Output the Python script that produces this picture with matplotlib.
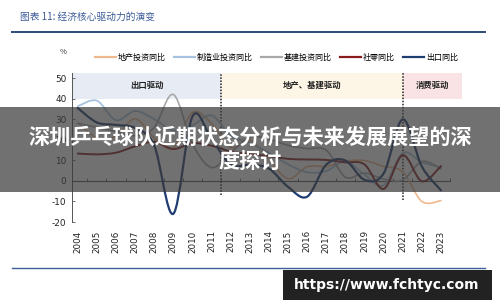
import numpy as np
import matplotlib
matplotlib.use("Agg")
import matplotlib.pyplot as plt
from matplotlib.path import Path
from matplotlib.patches import PathPatch, Rectangle
from matplotlib.lines import Line2D

plt.rcParams['font.family'] = ['Noto Sans CJK SC', 'DejaVu Sans']

years = list(range(2004, 2024))
year_labels = [str(y) for y in years]
real_estate = [28.1, 20.9, 21.8, 30.2, 20.9, 16.1, 33.2, 27.9, 16.2, 19.8, 10.5, 1.0, 6.9, 7.0, 9.5, 9.9, 7.0, 4.4, -10.0, -9.6]
manufacturing = [36.3, 39.0, 29.5, 34.0, 30.0, 24.5, 27.0, 31.8, 22.0, 18.5, 13.5, 8.1, 4.2, 4.8, 9.5, 3.1, -2.2, 13.5, 9.1, 6.5]
infrastructure = [28.0, 26.0, 24.0, 22.0, 26.0, 42.0, 18.0, 6.5, 13.7, 21.2, 20.3, 17.3, 15.7, 14.9, 1.8, 3.8, 0.9, 0.4, 9.4, 5.9]
retail = [13.3, 12.9, 13.7, 16.8, 19.0, 15.5, 18.3, 17.1, 14.3, 13.1, 12.0, 10.7, 10.4, 10.2, 9.0, 8.0, -3.9, 12.5, -0.2, 7.2]
export = [35.4, 28.4, 27.2, 25.7, 17.2, -16.0, 31.3, 20.3, 7.9, 7.8, 6.0, -2.9, -7.7, 7.9, 9.9, 0.5, 3.6, 29.9, 7.0, -4.6]

series_names = ['地产投资同比', '制造业投资同比', '基建投资同比', '社零同比', '出口同比']
series_values = [real_estate, manufacturing, infrastructure, retail, export]
series_colors = ['#f0b88c', '#a8c3df', '#a8a8a8', '#8a1c1f', '#1f3d70']
series_widths = [1.2, 1.3, 1.2, 1.4, 1.6]

phase_names = ['出口驱动', '地产、基建驱动', '消费驱动']
phase_bounds = [(2003.7, 2011.5), (2011.5, 2021.0), (2021.0, 2024.1)]
phase_colors = ['#e6ebf4', '#fdf6e6', '#fae3e5']

yticks = [-20, -10, 0, 10, 20, 30, 40, 50]


def smooth_path(xs, ys):
    pts = np.column_stack([xs, ys]).astype(float)
    n = len(pts)
    verts = [pts[0]]
    codes = [Path.MOVETO]
    for i in range(n - 1):
        p0 = pts[i - 1] if i > 0 else pts[i]
        p1 = pts[i]
        p2 = pts[i + 1]
        p3 = pts[i + 2] if i + 2 < n else pts[i + 1]
        c1 = p1 + (p2 - p0) / 6.0
        c2 = p2 - (p3 - p1) / 6.0
        verts += [c1, c2, p2]
        codes += [Path.CURVE4] * 3
    return Path(verts, codes)


fig = plt.figure(figsize=(5, 3), dpi=100)
fig.patch.set_facecolor('white')
ax = fig.add_axes([0.144, 0.26, 0.78, 0.497])
ax.set_xlim(2003.7, 2024.1)
ax.set_ylim(-20, 52.5)

# phase bands
for (x0, x1), c, name in zip(phase_bounds, phase_colors, phase_names):
    ax.add_patch(Rectangle((x0, 40), x1 - x0, 12.5, facecolor=c, edgecolor='none', zorder=0))
    ax.text((x0 + x1) / 2, 46.5, name, ha='center', va='center', fontsize=6.0,
            fontweight='bold', color='#222222', zorder=1)
ax.vlines(2011.5, -7, 52.5, colors='#222222', linestyles=(0, (1, 1)), linewidth=1.1, zorder=3)
ax.vlines(2021.0, -9.5, 52.5, colors='#222222', linestyles=(0, (1, 1)), linewidth=1.1, zorder=3)

# zero line with category ticks
ax.axhline(0, xmin=0, xmax=(2023.45 - 2003.7) / (2024.1 - 2003.7), color='#555555', linewidth=0.8, zorder=2)
ax.vlines([y + 0.5 for y in years[:-1]] + [2023.45], 0, 1.5, colors='#555555', linewidth=0.6, zorder=2)

handles = []
for vals, col, lw, name in zip(series_values, series_colors, series_widths, series_names):
    ax.add_patch(PathPatch(smooth_path(years, vals), facecolor='none', edgecolor=col,
                           linewidth=lw, zorder=4, capstyle='round'))
    handles.append(Line2D([], [], color=col, linewidth=1.6, label=name))

ax.set_xticks(years)
ax.set_xticklabels(year_labels, rotation=90, fontsize=6.3, color='#222222',
                   family=['DejaVu Sans'])
ax.tick_params(axis='x', length=0, pad=6)
ax.set_yticks(yticks)
ax.set_yticklabels([str(v) for v in yticks], fontsize=6.4, color='#222222', family=['DejaVu Sans'])
ax.tick_params(axis='y', direction='in', length=2, width=0.6, pad=4, color='#555555')
for s in ['top', 'right', 'bottom']:
    ax.spines[s].set_visible(False)
ax.spines['left'].set_color('#555555')
ax.spines['left'].set_linewidth(0.7)
ax.spines['left'].set_bounds(-20, 52.5)

fig.text(0.126, 0.826, '%', fontsize=5.5, color='#333333', ha='center', va='center')

fig.legend(handles=handles, loc='center', bbox_to_anchor=(0.553, 0.81), ncol=5, frameon=False,
           fontsize=5.8, handlelength=2.6, columnspacing=1.0, handletextpad=0.25)

# title
fig.text(0.04, 0.943, '图表 11: 经济核心驱动力的演变', fontsize=7.0, color='#3b5a98',
         ha='left', va='center', style='italic')
fig.add_artist(Line2D([0.024, 0.97], [0.893, 0.893], color='#2c4a7c', linewidth=1.4))
fig.add_artist(Line2D([0.024, 0.97], [0.107, 0.107], color='#3a5f9a', linewidth=1.0))

# overlay banner
fig.add_artist(Rectangle((0, 1 - 192 / 300), 1, 85 / 300, transform=fig.transFigure,
                         facecolor='#3a3a3a', alpha=0.72, edgecolor='none', zorder=10))
fig.text(0.5, 1 - 137 / 300, '深圳乒乓球队近期状态分析与未来发展展望的深', fontsize=15.2,
         color='white', fontweight='bold', ha='center', va='center', zorder=11)
fig.text(0.5, 1 - 161 / 300, '度探讨', fontsize=15.2,
         color='white', fontweight='bold', ha='center', va='center', zorder=11)

# watermark
fig.add_artist(Rectangle((283 / 500, 0), 209 / 500, 30 / 300, transform=fig.transFigure,
                         facecolor='#222222', edgecolor='none', zorder=10))
fig.text(387 / 500, 15 / 300, 'https://www.fchtyc.com', fontsize=10, color='white',
         fontweight='bold', ha='center', va='center', zorder=11, family=['DejaVu Sans'])

fig.savefig('out.png', dpi=100)
